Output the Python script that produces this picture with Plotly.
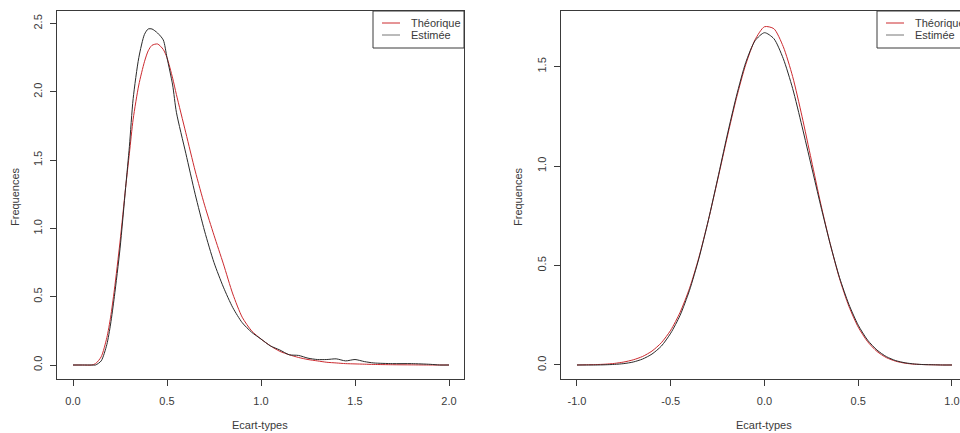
import plotly.graph_objects as go

W, H = 960, 433

# ---- Left panel data (standard deviations) ----
x_left = [0.0, 0.05, 0.10, 0.12, 0.15, 0.18, 0.20, 0.22, 0.25, 0.28, 0.30, 0.32, 0.35, 0.38, 0.40,
          0.42, 0.45, 0.48, 0.50, 0.53, 0.55, 0.60, 0.65, 0.70, 0.75, 0.80, 0.85, 0.90, 0.95, 1.00,
          1.05, 1.10, 1.15, 1.20, 1.25, 1.30, 1.35, 1.40, 1.45, 1.50, 1.55, 1.60, 1.70, 1.80, 1.90,
          1.95, 2.00]
est_left = [0, 0, 0, 0, 0.03, 0.15, 0.30, 0.50, 0.85, 1.30, 1.60, 1.95, 2.25, 2.42, 2.46,
            2.46, 2.43, 2.38, 2.25, 2.05, 1.85, 1.55, 1.25, 0.98, 0.75, 0.57, 0.42, 0.31, 0.24, 0.19,
            0.14, 0.11, 0.075, 0.07, 0.05, 0.04, 0.04, 0.045, 0.03, 0.04, 0.025, 0.015, 0.01, 0.01, 0.005,
            0, 0]
theo_left = [0, 0, 0, 0.01, 0.06, 0.20, 0.35, 0.55, 0.90, 1.30, 1.55, 1.80, 2.05, 2.22, 2.30,
             2.34, 2.35, 2.31, 2.25, 2.10, 1.98, 1.70, 1.42, 1.17, 0.95, 0.74, 0.52, 0.35, 0.25, 0.19,
             0.14, 0.10, 0.075, 0.055, 0.04, 0.03, 0.02, 0.015, 0.01, 0.008, 0.006, 0.004, 0.002, 0.001, 0,
             0, 0]

# ---- Right panel data (centred) ----
x_right = [-1.0, -0.95, -0.9, -0.85, -0.8, -0.75, -0.7, -0.65, -0.6, -0.55, -0.5, -0.45, -0.4, -0.35,
           -0.3, -0.25, -0.2, -0.15, -0.1, -0.05, 0.0, 0.05, 0.1, 0.15, 0.2, 0.25, 0.3, 0.35, 0.4,
           0.45, 0.5, 0.55, 0.6, 0.65, 0.7, 0.75, 0.8, 0.85, 0.9, 0.95, 1.0]
theo_right = [0, 0.001, 0.002, 0.004, 0.008, 0.015, 0.026, 0.043, 0.07, 0.112, 0.175, 0.265, 0.385, 0.54,
              0.725, 0.93, 1.14, 1.34, 1.51, 1.635, 1.70, 1.69, 1.60, 1.45, 1.25, 1.03, 0.81, 0.61, 0.435,
              0.295, 0.19, 0.117, 0.068, 0.037, 0.019, 0.009, 0.004, 0.002, 0.001, 0, 0]
est_right = [0, 0, 0, 0.001, 0.003, 0.007, 0.015, 0.03, 0.055, 0.095, 0.16, 0.25, 0.375, 0.535,
             0.725, 0.935, 1.15, 1.35, 1.52, 1.63, 1.67, 1.64, 1.54, 1.39, 1.20, 1.00, 0.80, 0.61, 0.44,
             0.305, 0.20, 0.125, 0.075, 0.042, 0.022, 0.011, 0.005, 0.002, 0.001, 0, 0]

x_ticks_left = [0.0, 0.5, 1.0, 1.5, 2.0]
x_ticks_right = [-1.0, -0.5, 0.0, 0.5, 1.0]
y_ticks_left = [0.0, 0.5, 1.0, 1.5, 2.0, 2.5]
y_ticks_right = [0.0, 0.5, 1.0, 1.5]

RED = "#cc2a2f"
BLACK = "#2a2a2a"
TXT = "#3a3a3a"
FONT = "Liberation Sans, Arial, sans-serif"


def px(x):
    # window pixel -> paper fraction
    return x / W


def py(y):
    return 1 - y / H


def curve(x, y, color, name, xa, ya):
    return go.Scatter(x=x, y=y, mode="lines",
                      line=dict(color=color, width=1, shape="spline", smoothing=0.7),
                      xaxis=xa, yaxis=ya, name=name, showlegend=False)


fig = go.Figure()
fig.add_trace(curve(x_left, theo_left, RED, "Théorique", "x", "y"))
fig.add_trace(curve(x_left, est_left, BLACK, "Estimée", "x", "y"))
fig.add_trace(curve(x_right, theo_right, RED, "Théorique", "x2", "y2"))
fig.add_trace(curve(x_right, est_right, BLACK, "Estimée", "x2", "y2"))

axcommon = dict(showgrid=False, zeroline=False, ticks="outside", ticklen=6, tickcolor=TXT,
                tickwidth=1, linecolor=TXT, linewidth=1, showline=True,
                tickfont=dict(family=FONT, size=11, color=TXT))

fig.update_layout(
    width=W, height=H, margin=dict(l=0, r=0, t=0, b=0),
    paper_bgcolor="white", plot_bgcolor="white", showlegend=False,
    xaxis=dict(domain=[px(57), px(464)], range=[-0.0851, 2.0798], tickvals=x_ticks_left,
               ticktext=[f"{v:.1f}" for v in x_ticks_left], anchor="y", mirror=True,
               ticklabelstandoff=6, **axcommon),
    yaxis=dict(domain=[py(379), py(11)], range=[-0.1025, 2.5915], tickvals=y_ticks_left,
               ticktext=[f"{v:.1f}" for v in y_ticks_left], anchor="x", mirror=True,
               tickangle=-90, ticklabelstandoff=4, **axcommon),
    xaxis2=dict(domain=[px(561), 1.0], range=[-1.0853, 1.0427], tickvals=x_ticks_right,
                ticktext=[f"{v:.1f}" for v in x_ticks_right], anchor="y2", mirror=True,
                ticklabelstandoff=6, **axcommon),
    yaxis2=dict(domain=[py(379), py(11)], range=[-0.0704, 1.779], tickvals=y_ticks_right,
                ticktext=[f"{v:.1f}" for v in y_ticks_right], anchor="x2", mirror=False,
                tickangle=-90, ticklabelstandoff=4, **axcommon),
)

shapes = []
annotations = []


def legend(x0, y0):
    shapes.append(dict(type="rect", xref="paper", yref="paper", x0=px(x0), x1=px(x0 + 91),
                       y0=py(y0 + 37), y1=py(y0), line=dict(color=TXT, width=1),
                       fillcolor="rgba(0,0,0,0)"))
    for i, (lab, col) in enumerate([("Théorique", RED), ("Estimée", "#777777")]):
        yy = y0 + 12 + i * 12
        shapes.append(dict(type="line", xref="paper", yref="paper", x0=px(x0 + 9), x1=px(x0 + 27),
                           y0=py(yy), y1=py(yy), line=dict(color=col, width=1)))
        annotations.append(dict(x=px(x0 + 36), y=py(yy), xref="paper", yref="paper", text=lab,
                                showarrow=False, xanchor="left", yanchor="middle",
                                font=dict(family=FONT, size=11, color=TXT)))


legend(373, 11)
legend(877, 11)

for cx, cy, txt, ang in [(260, 425, "Ecart-types", 0), (764, 425, "Ecart-types", 0),
                         (15, 197, "Frequences", -90), (518, 197, "Frequences", -90)]:
    annotations.append(dict(x=px(cx), y=py(cy), xref="paper", yref="paper", text=txt,
                            showarrow=False, xanchor="center", yanchor="middle", textangle=ang,
                            font=dict(family=FONT, size=11, color=TXT)))

fig.update_layout(shapes=shapes, annotations=annotations)
fig.write_html("out.html", config={"displayModeBar": False},
               post_script="document.body.style.margin='0';document.body.style.overflow='hidden';"
                           "document.documentElement.style.overflow='hidden';")
